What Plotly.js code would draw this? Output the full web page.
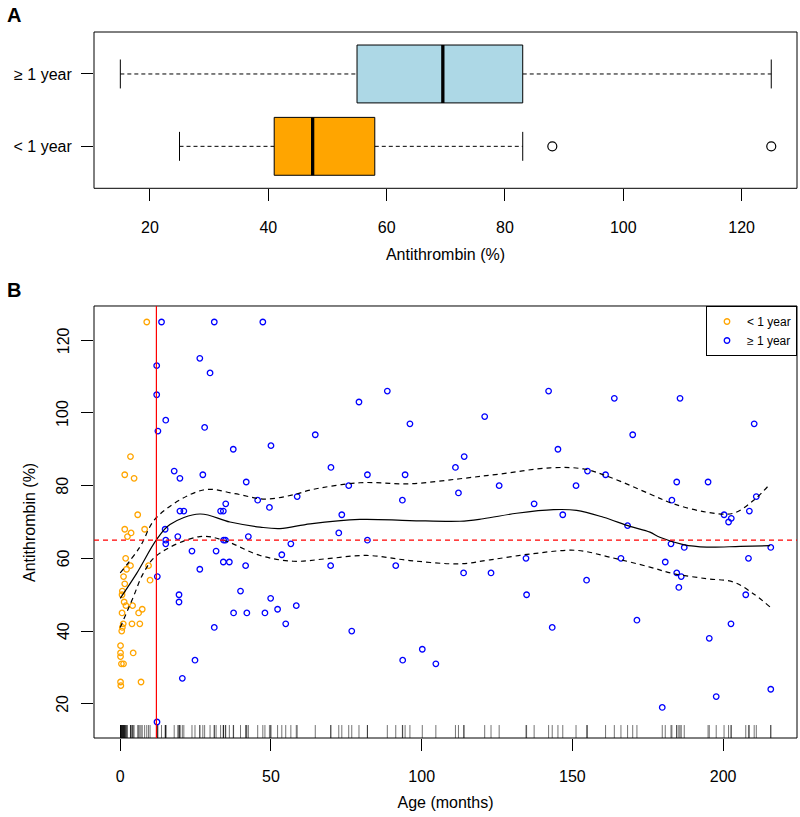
<!DOCTYPE html>
<html>
<head>
<meta charset="utf-8">
<script src="https://cdn.plot.ly/plotly-3.0.1.min.js"></script>
<style>html,body{margin:0;padding:0;background:#fff;}#chart{width:800px;height:817px;}</style>
</head>
<body>
<div id="chart"></div>
<script>
// ---------- Panel A: box plot summary ----------
const boxGroups   = ["< 1 year", "≥ 1 year"];
const boxLower    = [25, 15];
const boxQ1       = [41, 55];
const boxMedian   = [47.5, 69.5];
const boxQ3       = [58, 83];
const boxUpper    = [83, 125];
const boxOutliers = [[88, 125], []];
const boxColors   = ["#FFA500", "#ADD8E6"];

// ---------- Panel B: individual measurements ----------
const infantAge = [8.8, 3.4, 1.5, 4.6, 5.8, 1.5, 3.6, 2.4, 8.1, 1.8, 3.4, 2.1, 9.4, 1.1, 9.9, 1.5, 0.7, 0.6, 1.3, 1.9,
                   4.1, 0.6, 6.1, 7.3, 3.9, 6.5, 1.0, 0.7, 0.5, 0.1, 0.1, 0.1, 4.3, 0.4, 1.1, 0.1, 0.2, 6.9];
const infantAT  = [125, 88, 83, 82, 72, 68, 67, 66, 68, 60, 58, 57, 58, 55, 54, 53, 51, 50, 48, 47,
                   47, 45, 45, 46, 42, 42, 42, 41, 40, 36, 34, 33, 34, 31, 31, 26, 25, 26];

const childAge = [13.7, 31.2, 47.3, 12.1, 26.4, 29.8, 12.1, 15.1, 12.5, 28, 37.5, 50, 17.9, 19.8, 27.4, 41.8, 45.6, 49.5, 35, 19.8,
                  21.1, 33.3, 34.2, 14.9, 19.1, 42.5, 15.1, 15.1, 34.3, 34.9, 23.8, 31.8, 26.4, 34.2, 36.2, 41.6, 12.3, 39.9, 49.9, 19.5,
                  19.5, 37.6, 42, 48, 31.2, 24.8, 20.6, 12.2, 88.6, 79.2, 96.1, 64.7, 69.9, 82, 94.5, 111.2, 75.8, 58.7, 93.6, 112.2,
                  73.5, 72.5, 82, 56.6, 53.6, 69.8, 91.4, 52.2, 58.4, 54.9, 76.8, 93.7, 100.2, 104.7, 142.1, 163.9, 120.9, 170, 145.2, 114.1,
                  155, 161, 125.7, 151.2, 137.3, 146.8, 168.3, 113.9, 123, 134.6, 134.8, 154.7, 143.3, 166.1, 171.4, 185.7, 210.3, 184.6, 195, 183,
                  211, 208.7, 200.3, 202.7, 201.8, 182.7, 187.1, 215.8, 208.4, 180.8, 184.6, 186.1, 185.3, 207.5, 202.6, 195.4, 179.8, 197.7, 215.8];
const childAT  = [125, 125, 125, 113, 115, 111, 105, 98, 95, 96, 90, 91, 84, 82, 83, 81, 76, 74, 75, 73,
                  73, 73, 73, 68, 66, 66, 65, 64, 65, 65, 62, 62, 57, 59, 59, 58, 55, 51, 49, 50,
                  48, 45, 45, 45, 41, 32, 27, 15, 106, 103, 97, 94, 85, 83, 83, 85, 80, 77, 76, 78,
                  72, 67, 65, 64, 61, 58, 58, 46, 47, 42, 40, 32, 35, 31, 106, 104, 99, 94, 90, 88,
                  84, 83, 80, 80, 75, 72, 69, 56, 56, 60, 50, 54, 41, 60, 43, 104, 97, 81, 81, 76,
                  77, 73, 72, 71, 70, 64, 63, 63, 60, 59, 56, 55, 52, 50, 42, 38, 19, 22, 24];

// smoothed fit and its confidence band
const fitAge   = [0, 5.4, 12.1, 16.5, 26.4, 36.4, 46.4, 53, 63, 79.5, 96, 112.7, 120.4, 131.5, 143.7, 151.4, 160.3, 169.1, 175.7, 179, 186.8, 194.6, 205.6, 215.6];
const fitAT    = [49, 55.8, 65.2, 69.3, 72.2, 70, 68.6, 68.2, 69.5, 70.7, 70.4, 70.2, 70.9, 72.4, 73.4, 73.2, 71.3, 68.8, 67.2, 65.8, 63.8, 63.1, 63.3, 63.5];
const upperAge = [0, 6.5, 12.1, 27.5, 38, 48, 58.5, 63, 79.5, 96, 112.7, 126, 142.6, 153.6, 162.5, 175.7, 183.5, 194.6, 203.4, 210, 215.6];
const upperAT  = [56, 63.1, 71.3, 78.8, 77.8, 76.3, 77.7, 78.8, 80.8, 80.5, 81.9, 83.2, 84.9, 84.6, 82.3, 77.7, 75, 72.7, 72.4, 75.9, 80.5];
const lowerAge = [0, 4.3, 7.6, 12.1, 26.4, 34.2, 46.4, 57.4, 68.5, 81.7, 96.1, 112.7, 122.7, 137, 151.4, 162.5, 175.7, 183.5, 194.6, 203.4, 210, 215.6];
const lowerAT  = [41, 49.3, 55.8, 60.8, 66, 65, 60.8, 59.2, 59.9, 60.8, 59.4, 58.5, 59.6, 61.3, 62.2, 60.3, 57.6, 55.8, 54.4, 53.5, 50.3, 46.6];

const ageTicks = [0, 50, 100, 150, 200];
const atTicks  = [20, 40, 60, 80, 100, 120];
const cutoffAge = 12;     // months
const referenceAT = 65;   // %

const FONT = "Liberation Sans, Arial, Helvetica, sans-serif";
const traces = [];

// ----- Panel A traces -----
for (let i = 0; i < boxGroups.length; i++) {
  const p = i + 1, hw = 0.4, cw = 0.2;
  traces.push({type: "scatter", mode: "lines", xaxis: "x", yaxis: "y", showlegend: false, hoverinfo: "skip",
    x: [boxLower[i], boxQ1[i], null, boxQ3[i], boxUpper[i]], y: [p, p, null, p, p],
    line: {color: "black", width: 1, dash: "4px,3px"}});
  traces.push({type: "scatter", mode: "lines", xaxis: "x", yaxis: "y", showlegend: false, hoverinfo: "skip",
    x: [boxLower[i], boxLower[i], null, boxUpper[i], boxUpper[i]], y: [p - cw, p + cw, null, p - cw, p + cw],
    line: {color: "black", width: 1}});
  traces.push({type: "scatter", mode: "lines", xaxis: "x", yaxis: "y", showlegend: false, hoverinfo: "skip",
    x: [boxQ1[i], boxQ3[i], boxQ3[i], boxQ1[i], boxQ1[i]], y: [p - hw, p - hw, p + hw, p + hw, p - hw],
    fill: "toself", fillcolor: boxColors[i], line: {color: "black", width: 1}});
  traces.push({type: "scatter", mode: "lines", xaxis: "x", yaxis: "y", showlegend: false, hoverinfo: "skip",
    x: [boxMedian[i], boxMedian[i]], y: [p - hw, p + hw], line: {color: "black", width: 3.3}});
  if (boxOutliers[i].length) {
    traces.push({type: "scatter", mode: "markers", xaxis: "x", yaxis: "y", showlegend: false,
      x: boxOutliers[i], y: boxOutliers[i].map(() => p),
      marker: {symbol: "circle-open", size: 9, color: "black", line: {width: 1.2, color: "black"}}});
  }
}

// ----- Panel B traces -----
traces.push({type: "scatter", mode: "markers", xaxis: "x2", yaxis: "y2", name: "< 1 year",
  x: infantAge, y: infantAT, marker: {symbol: "circle-open", size: 5.5, color: "#FFA500", line: {width: 1.3, color: "#FFA500"}}});
traces.push({type: "scatter", mode: "markers", xaxis: "x2", yaxis: "y2", name: "≥ 1 year",
  x: childAge, y: childAT, marker: {symbol: "circle-open", size: 5.5, color: "#0000FF", line: {width: 1.3, color: "#0000FF"}}});
traces.push({type: "scatter", mode: "lines", xaxis: "x2", yaxis: "y2", showlegend: false, hoverinfo: "skip",
  x: fitAge, y: fitAT, line: {color: "black", width: 1.2, shape: "spline", smoothing: 1}});
traces.push({type: "scatter", mode: "lines", xaxis: "x2", yaxis: "y2", showlegend: false, hoverinfo: "skip",
  x: upperAge, y: upperAT, line: {color: "black", width: 1.2, dash: "5px,4px", shape: "spline", smoothing: 1}});
traces.push({type: "scatter", mode: "lines", xaxis: "x2", yaxis: "y2", showlegend: false, hoverinfo: "skip",
  x: lowerAge, y: lowerAT, line: {color: "black", width: 1.2, dash: "5px,4px", shape: "spline", smoothing: 1}});

// ----- shapes: frames, rug, reference lines -----
const shapes = [
  {type: "rect", xref: "x domain", yref: "y domain", x0: 0, x1: 1, y0: 0, y1: 1, line: {color: "black", width: 1}},
  {type: "rect", xref: "x2 domain", yref: "y2 domain", x0: 0, x1: 1, y0: 0, y1: 1, line: {color: "black", width: 1}}
];
infantAge.concat(childAge).forEach(a => {
  shapes.push({type: "line", xref: "x2", yref: "y2 domain", x0: a, x1: a, y0: 0, y1: 0.03,
    line: {color: "rgba(0,0,0,0.55)", width: 1}, layer: "below"});
});
shapes.push({type: "line", xref: "x2", yref: "y2 domain", x0: cutoffAge, x1: cutoffAge, y0: 0, y1: 1, line: {color: "red", width: 1.2}});
shapes.push({type: "line", xref: "x2 domain", yref: "y2", x0: 0, x1: 1, y0: referenceAT, y1: referenceAT, line: {color: "red", width: 1.2, dash: "5px,4px"}});

const axisCommon = {showgrid: false, zeroline: false, showline: false, ticks: "outside", ticklen: 12, tickwidth: 1, tickcolor: "black",
  tickfont: {family: FONT, size: 16, color: "black"}, automargin: false, fixedrange: true};

// vertical (R style) y tick labels and title for panel B
const annotations = [
  {text: "<b>A</b>", xref: "paper", yref: "paper", x: -0.127, y: 1.024, xanchor: "left", yanchor: "middle", showarrow: false,
    font: {family: FONT, size: 20, color: "black"}},
  {text: "<b>B</b>", xref: "paper", yref: "paper", x: -0.127, y: 0.6346, xanchor: "left", yanchor: "middle", showarrow: false,
    font: {family: FONT, size: 20, color: "black"}},
  {text: "Antithrombin (%)", xref: "paper", yref: "y2 domain", x: -0.0911, y: 0.5, xanchor: "center", yanchor: "middle",
    textangle: -90, showarrow: false, font: {family: FONT, size: 16, color: "black"}}
];
atTicks.forEach(v => annotations.push({text: String(v), xref: "paper", yref: "y2", x: -0.0441, y: v, xanchor: "center", yanchor: "middle",
  textangle: -90, showarrow: false, font: {family: FONT, size: 16, color: "black"}}));

const layout = {
  width: 800, height: 817,
  margin: {l: 94, r: 3, t: 32, b: 79},
  paper_bgcolor: "white", plot_bgcolor: "white",
  font: {family: FONT, size: 16, color: "black"},
  showlegend: true,
  legend: {x: 1, xanchor: "right", y: 0.6119, yanchor: "top", bordercolor: "black", borderwidth: 1, bgcolor: "white",
    font: {family: FONT, size: 12, color: "black"}, itemwidth: 30, tracegroupgap: 0},
  xaxis: Object.assign({}, axisCommon, {domain: [0, 1], anchor: "y", range: [10.55, 129.35], tickvals: [20, 40, 60, 80, 100, 120],
    ticklabelstandoff: 12, title: {text: "Antithrombin (%)", font: {family: FONT, size: 16}, standoff: 14}}),
  yaxis: Object.assign({}, axisCommon, {domain: [0.7786, 1], anchor: "x", range: [0.42, 2.58], tickvals: [1, 2], ticktext: boxGroups,
    ticklabelstandoff: 6}),
  xaxis2: Object.assign({}, axisCommon, {domain: [0, 1], anchor: "y2", range: [-8.7, 224.5], tickvals: ageTicks,
    ticklabelstandoff: 12, title: {text: "Age (months)", font: {family: FONT, size: 16}, standoff: 12}}),
  yaxis2: Object.assign({}, axisCommon, {domain: [0, 0.6119], anchor: "x2", range: [10.6, 129.4], tickvals: atTicks,
    showticklabels: false}),
  shapes: shapes,
  annotations: annotations
};

Plotly.newPlot("chart", traces, layout, {displayModeBar: false, staticPlot: true});
</script>
</body>
</html>
